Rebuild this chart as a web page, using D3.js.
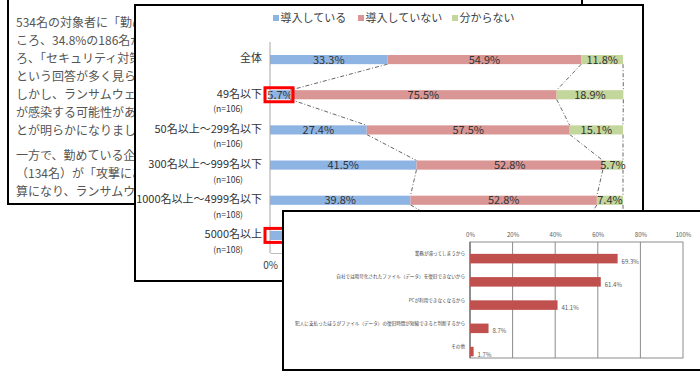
<!DOCTYPE html>
<html>
<head>
<meta charset="utf-8">
<script src="https://cdn.jsdelivr.net/npm/d3@7/dist/d3.min.js"></script>
<style>
  html, body { margin: 0; padding: 0; background: #fff; }
  svg { display: block; }
  text { font-family: "Noto Sans CJK JP", "Noto Sans", sans-serif; }
</style>
</head>
<body>
<svg id="chart" width="700" height="371"></svg>
<script>
// ---------- data ----------
const articleLines = [
  "534名の対象者に「勤め",
  "ころ、34.8%の186名が",
  "ろ、「セキュリティ対策",
  "という回答が多く見られ",
  "しかし、ランサムウェア",
  "が感染する可能性があり",
  "とが明らかになりました",
  "一方で、勤めている企業",
  "（134名）が「攻撃にあ",
  "算になり、ランサムウェ"
];
const paragraphBreakAfter = 6;

const companySizes = ["全体", "49名以下", "50名以上～299名以下", "300名以上～999名以下", "1000名以上～4999名以下", "5000名以上"];
const sampleSizes = ["", "(n=106)", "(n=106)", "(n=106)", "(n=108)", "(n=108)"];
const seriesNames = ["導入している", "導入していない", "分からない"];
const introduced    = [33.3, 5.7, 27.4, 41.5, 39.8, 51.9];
const notIntroduced = [54.9, 75.5, 57.5, 52.8, 52.8, 36.1];
const unknown       = [11.8, 18.9, 15.1, 5.7, 7.4, 12.0];
const stackTicks = [0, 20, 40, 60, 80, 100];
const highlighted = ["49名以下", "5000名以上"];

const reasons = [
  "業務が滞ってしまうから",
  "自社では暗号化されたファイル（データ）を復旧できないから",
  "PCが利用できなくなるから",
  "犯人に支払ったほうがファイル（データ）の復旧時間が短縮できると判断するから",
  "その他"
];
const reasonValues = [69.3, 61.4, 41.1, 8.7, 1.7];
const reasonTicks = [0, 20, 40, 60, 80, 100];

// ---------- layout of the three overlapping panels ----------
const panel1 = { x: 8, y: -10, w: 574, h: 214 };
const panel2 = { x: 135, y: 5, w: 508, h: 276 };
const panel3 = { x: 283, y: 211, w: 440, h: 159 };
const underPanel3 = (x, y) => x > panel3.x && y > panel3.y;

const svg = d3.select("#chart");
const defs = svg.append("defs");
defs.append("clipPath").attr("id", "clip1")
  .append("rect").attr("x", panel1.x).attr("y", panel1.y).attr("width", panel2.x - panel1.x).attr("height", panel1.h);

// Panel 1: article text
const p1 = svg.append("g");
p1.append("rect").attr("x", panel1.x).attr("y", panel1.y).attr("width", panel1.w).attr("height", panel1.h)
  .attr("fill", "#fff").attr("stroke", "#000").attr("stroke-width", 2);
p1.append("g").attr("clip-path", "url(#clip1)")
  .selectAll("text.line").data(articleLines).join("text")
  .attr("class", "line")
  .attr("x", 16)
  .attr("y", (d, i) => 23 + i * 18 + (i > paragraphBreakAfter ? 7 : 0))
  .attr("dy", "0.35em")
  .attr("font-size", 12)
  .attr("fill", "#555")
  .text(d => d);

// Panel 2: stacked bar chart
const p2 = svg.append("g");
p2.append("rect").attr("x", panel2.x).attr("y", panel2.y).attr("width", panel2.w).attr("height", panel2.h)
  .attr("fill", "#fff").attr("stroke", "#000").attr("stroke-width", 2);

const colors2 = ["#8EB4E3", "#D99694", "#C3D69B"];
const x2 = d3.scaleLinear().domain([0, 100]).range([270, 623]);
const y2 = d3.scaleBand().domain(companySizes).range([42, 253]).paddingInner(0.74).paddingOuter(0.37);

const stackData = companySizes.map((c, i) => ({ cat: c, a: introduced[i], b: notIntroduced[i], c: unknown[i] }));
const stack = d3.stack().keys(["a", "b", "c"])(stackData);

// legend
const legend = p2.append("g");
const legendX = [273, 358, 452];
seriesNames.forEach((s, i) => {
  legend.append("rect").attr("x", legendX[i]).attr("y", 15).attr("width", 6).attr("height", 6).attr("fill", colors2[i]);
  legend.append("text").attr("x", legendX[i] + 7.5).attr("y", 18).attr("dy", "0.35em")
    .attr("font-size", 11).attr("fill", "#404040").text(s);
});

// x axis (bottom); labels under panel 3 are not drawn
const xAxis2 = p2.append("g").attr("transform", "translate(0,253)")
  .call(d3.axisBottom(x2).tickValues(stackTicks.filter(t => !underPanel3(x2(t) - 6, 253)))
    .tickFormat(d => d + "%").tickSize(0).tickPadding(9));
xAxis2.select(".domain").attr("stroke", "#bfbfbf");
xAxis2.selectAll("text").attr("font-size", 10).attr("fill", "#404040")
  .attr("font-family", "\"Noto Sans CJK JP\", sans-serif");

// series lines
const seriesLines = p2.append("g");
stack.forEach(layer => {
  for (let i = 0; i < layer.length - 1; i++) {
    const c0 = companySizes[i], c1 = companySizes[i + 1];
    seriesLines.append("line")
      .attr("x1", x2(layer[i][1])).attr("y1", y2(c0) + y2.bandwidth())
      .attr("x2", x2(layer[i + 1][1])).attr("y2", y2(c1))
      .attr("stroke", "#555").attr("stroke-width", 0.9)
      .attr("stroke-dasharray", "4,2,1,2");
  }
});

// bars
stack.forEach((layer, k) => {
  p2.selectAll("rect.s" + k).data(layer).join("rect")
    .attr("class", "s" + k)
    .attr("x", d => x2(d[0]))
    .attr("y", d => y2(d.data.cat))
    .attr("width", d => x2(d[1]) - x2(d[0]))
    .attr("height", y2.bandwidth())
    .attr("fill", colors2[k]);
  p2.selectAll("text.v" + k)
    .data(layer.filter(d => !underPanel3((x2(d[0]) + x2(d[1])) / 2 - 12, y2(d.data.cat))))
    .join("text")
    .attr("class", "v" + k)
    .attr("x", d => (x2(d[0]) + x2(d[1])) / 2)
    .attr("y", d => y2(d.data.cat) + y2.bandwidth() / 2)
    .attr("dy", "0.36em")
    .attr("text-anchor", "middle")
    .attr("font-size", 11)
    .attr("fill", "#333")
    .text(d => (d[1] - d[0]).toFixed(1) + "%");
});

// y axis line
p2.append("line").attr("x1", 270).attr("x2", 270).attr("y1", 42).attr("y2", 253)
  .attr("stroke", "#a6a6a6").attr("stroke-width", 1);

// category labels
p2.selectAll("text.cat").data(companySizes).join("text")
  .attr("class", "cat")
  .attr("x", 262)
  .attr("y", d => y2(d) + y2.bandwidth() / 2 - 1)
  .attr("dy", "0.35em")
  .attr("text-anchor", "end")
  .attr("font-size", 11)
  .attr("fill", "#333")
  .text(d => d);
p2.selectAll("text.n").data(companySizes.map((c, i) => ({ c, n: sampleSizes[i] })).filter(d => d.n)).join("text")
  .attr("class", "n")
  .attr("x", 243)
  .attr("y", d => y2(d.c) + y2.bandwidth() / 2 + 14.5)
  .attr("dy", "0.35em")
  .attr("text-anchor", "end")
  .attr("font-size", 8.5)
  .attr("fill", "#333")
  .text(d => d.n);

// red highlight boxes
p2.selectAll("rect.hl").data(highlighted).join("rect")
  .attr("class", "hl")
  .attr("x", 265)
  .attr("y", d => y2(d) + y2.bandwidth() / 2 - 7)
  .attr("width", 28)
  .attr("height", 14)
  .attr("fill", "none")
  .attr("stroke", "#ff0000")
  .attr("stroke-width", 3);

// Panel 3: reasons bar chart
const p3 = svg.append("g");
p3.append("rect").attr("x", panel3.x).attr("y", panel3.y).attr("width", panel3.w).attr("height", panel3.h)
  .attr("fill", "#fff").attr("stroke", "#000").attr("stroke-width", 2);

const x3 = d3.scaleLinear().domain([0, 100]).range([470, 683]);
const y3 = d3.scaleBand().domain(reasons).range([247, 363.2]).paddingInner(0.59).paddingOuter(0.295);

// plot frame and gridlines
p3.append("rect").attr("x", x3(0)).attr("y", 242).attr("width", x3(100) - x3(0)).attr("height", 116)
  .attr("fill", "none").attr("stroke", "#8c8c8c").attr("stroke-width", 1);
p3.selectAll("line.grid").data(reasonTicks.slice(1, -1)).join("line")
  .attr("class", "grid")
  .attr("x1", d => x3(d)).attr("x2", d => x3(d))
  .attr("y1", 242).attr("y2", 358)
  .attr("stroke", "#8c8c8c").attr("stroke-width", 1);
const xAxis3 = p3.append("g").attr("transform", "translate(0,242)")
  .call(d3.axisTop(x3).tickValues(reasonTicks).tickFormat(d => d + "%").tickSize(0).tickPadding(5));
xAxis3.select(".domain").remove();
xAxis3.selectAll("text").attr("font-size", 6).attr("fill", "#595959")
  .attr("font-family", "\"Noto Sans CJK JP\", sans-serif");
p3.append("line").attr("x1", x3(0)).attr("x2", x3(0)).attr("y1", 242).attr("y2", 358)
  .attr("stroke", "#595959").attr("stroke-width", 1);

p3.selectAll("rect.bar").data(reasons).join("rect")
  .attr("class", "bar")
  .attr("x", x3(0))
  .attr("y", d => y3(d))
  .attr("width", (d, i) => x3(reasonValues[i]) - x3(0))
  .attr("height", y3.bandwidth())
  .attr("fill", "#C0504D");
p3.selectAll("text.val").data(reasons).join("text")
  .attr("class", "val")
  .attr("x", (d, i) => x3(reasonValues[i]) + 4)
  .attr("y", d => y3(d) + y3.bandwidth() / 2 + 3)
  .attr("dy", "0.35em")
  .attr("font-size", 6)
  .attr("fill", "#595959")
  .text((d, i) => reasonValues[i].toFixed(1) + "%");
p3.selectAll("text.rlab").data(reasons).join("text")
  .attr("class", "rlab")
  .attr("x", 465)
  .attr("y", d => y3(d) + y3.bandwidth() / 2 - 5)
  .attr("dy", "0.35em")
  .attr("text-anchor", "end")
  .attr("font-size", 4.6)
  .attr("fill", "#404040")
  .text(d => d);
</script>
</body>
</html>
